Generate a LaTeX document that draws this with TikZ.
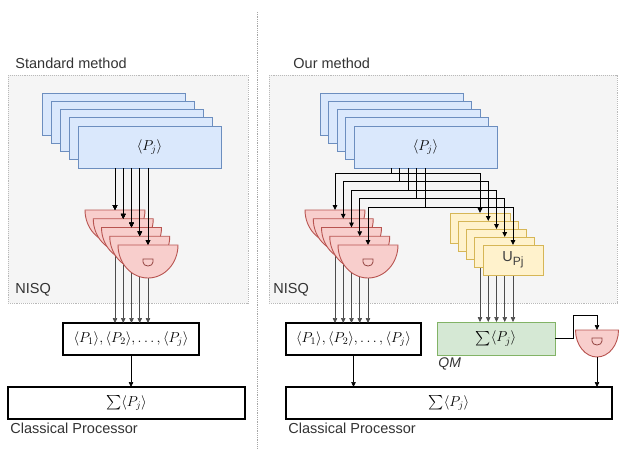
\documentclass[tikz,border=0pt]{standalone}
\usepackage{amsmath}
\usepackage{fontspec}
\setmainfont{Liberation Sans}
\usepackage{tikz}
\usetikzlibrary{arrows.meta}
\usetikzlibrary{positioning}

\definecolor{blfill}{HTML}{DAE8FC}
\definecolor{bldraw}{HTML}{6C8EBF}
\definecolor{rdfill}{HTML}{F8CECC}
\definecolor{rddraw}{HTML}{B85450}
\definecolor{ylfill}{HTML}{FFF2CC}
\definecolor{yldraw}{HTML}{D6B656}
\definecolor{grfill}{HTML}{D5E8D4}
\definecolor{grdraw}{HTML}{82B366}
\definecolor{nisqfill}{HTML}{F5F5F5}

% half disc of a measurement, drawn below the north side of node #1
\newcommand{\halfdisc}[3]{%
  \draw[meter] (#1.north west) -- (#1.north east)
    arc[start angle=0,end angle=-180,x radius=#2pt,y radius=#3pt] -- cycle;}
% small dial inside a measurement
\newcommand{\dial}[2]{%
  \draw[rddraw!80!black,line width=.8pt] ([shift={(-5,#2)}]#1.north) -- ++(10,0) -- ++(0,3)
    arc[start angle=0,end angle=-180,x radius=5pt,y radius=4pt] -- cycle;}

\begin{document}
\begin{tikzpicture}[x=1pt,y=-1pt,font=\fontsize{14.5}{17}\selectfont,
  >={Triangle[length=5pt,width=4.5pt]}, line width=.9pt,
  region/.style={draw=gray!55,densely dotted,fill=nisqfill},
  lbl/.style={anchor=west,inner sep=0,text=black!80},
  state/.style={draw=bldraw,fill=blfill,minimum width=143,minimum height=42,
    inner sep=0,outer sep=0,anchor=north west},
  slot/.style={minimum width=60,minimum height=30,inner sep=0,outer sep=0,anchor=north west},
  unitary/.style={slot,draw=yldraw,fill=ylfill,text=black!75},
  meterbox/.style={minimum width=60,minimum height=33,inner sep=0,outer sep=0,anchor=north},
  meter/.style={draw=rddraw,fill=rdfill},
  box/.style={draw,line width=1.2pt,minimum height=32,inner sep=0,outer sep=0},
  readout/.style={->,black!70,line width=.6pt}]
  \useasboundingbox (0,0) rectangle (620,450);

  % divider
  \draw[gray!70,densely dotted,line width=.8pt] (257,12) -- (257,448);

  % regions
  \draw[region] (8,75) rectangle (248,303);
  \draw[region] (269,75) rectangle (617,303);
  \node[lbl] (tStd) at (15,63) {Standard method};
  \node[lbl] (tOur) at (293,63) {Our method};
  \node[lbl] (nisqL) at (15,290) {NISQ};
  \node[lbl] (nisqR) at (273,290) {NISQ};

  % standard: states
  \foreach \k in {0,...,3}
    \node[state] (bL\k) at (42+9*\k,93+8.25*\k) {};
  \node[state] (bL4) at (78,126) {$\langle P_j\rangle$};

  % standard: measurements and read out
  \foreach \k in {0,...,4}
    \node[meterbox] (mL\k) at (115+8.25*\k,210+8.75*\k) {};
  \node[box,minimum width=136] (pL) at (131,339)
    {$\langle P_1\rangle,\langle P_2\rangle, \ldots, \langle P_j\rangle$};
  \foreach \k in {0,...,4}
    \draw[readout] (mL\k.center) -- (mL\k.center |- pL.north);
  \foreach \k in {0,...,4}
    \halfdisc{mL\k}{30}{33}
  \dial{mL4}{14}
  \foreach \k in {0,...,4}
    \draw[->] (mL\k.north |- bL4.south) -- (mL\k.north);

  \node[box,minimum width=237] (sL) at (126.5,403) {$\sum\langle P_j\rangle$};
  \draw[->,line width=.6pt] (pL.south) -- (pL.south |- sL.north);
  \node[lbl] (cpL) at (10,428) {Classical Processor};

  % ours: states
  \foreach \k in {0,...,3}
    \node[state] (bR\k) at (320+8.5*\k,93+8.25*\k) {};
  \node[state] (bR4) at (354,126) {$\langle P_j\rangle$};

  % ours: measurements and unitaries
  \foreach \k in {0,...,4} {
    \node[meterbox] (mR\k) at (335+8.25*\k,210+8.75*\k) {};
    \node[slot] (uR\k) at (450+8.25*\k,213+8*\k) {};
  }
  \node[box,minimum width=135] (pR) at (353.5,339)
    {$\langle P_1\rangle,\langle P_2\rangle, \ldots, \langle P_j\rangle$};
  \node[box,draw=grdraw,fill=grfill,line width=.9pt,minimum width=118,minimum height=33]
    (qm) at (496,338.5) {$\sum\langle P_j\rangle$};
  \node[lbl,font=\fontsize{14}{16}\selectfont\itshape] (qmLab) at (438,364) {QM};

  \foreach \k in {0,...,4} {
    \draw[readout] (mR\k.center) -- (mR\k.center |- pR.north);
    \draw[readout] (uR\k.center) -- (uR\k.center |- qm.north);
  }
  \foreach \k in {0,...,4}
    \halfdisc{mR\k}{30}{33}
  \dial{mR4}{14}
  \foreach \k in {0,...,3}
    \node[unitary] (uC\k) at (uR\k.north west) {};
  \node[unitary] (uC4) at (uR4.north west) {U\raisebox{-4pt}{\fontsize{12}{14}\selectfont Pj}};

  % ours: fan out to both stacks
  \foreach \k in {0,...,4} {
    \coordinate (tap\k) at (391+8.5*\k,173+8.5*\k);
    \draw[->] (tap\k |- bR4.south) -- (tap\k) -| (mR\k.north);
    \draw[->] (tap\k) -| (uR\k.north);
  }

  % ours: memory read out
  \node[meterbox,minimum width=43,minimum height=27] (mQ) at (597,330) {};
  \halfdisc{mQ}{21.5}{27}
  \dial{mQ}{8}
  \coordinate (bend) at (573,315);
  \draw[->,line width=.6pt] (qm.east) -| (bend) -| (mQ.north);

  \node[box,minimum width=326] (sR) at (449,403) {$\sum\langle P_j\rangle$};
  \draw[->,line width=.6pt] (pR.south) -- (pR.south |- sR.north);
  \draw[->,line width=.6pt] (mQ.south) -- (mQ.south |- sR.north);
  \node[lbl] (cpR) at (288,428) {Classical Processor};
\end{tikzpicture}
\end{document}
